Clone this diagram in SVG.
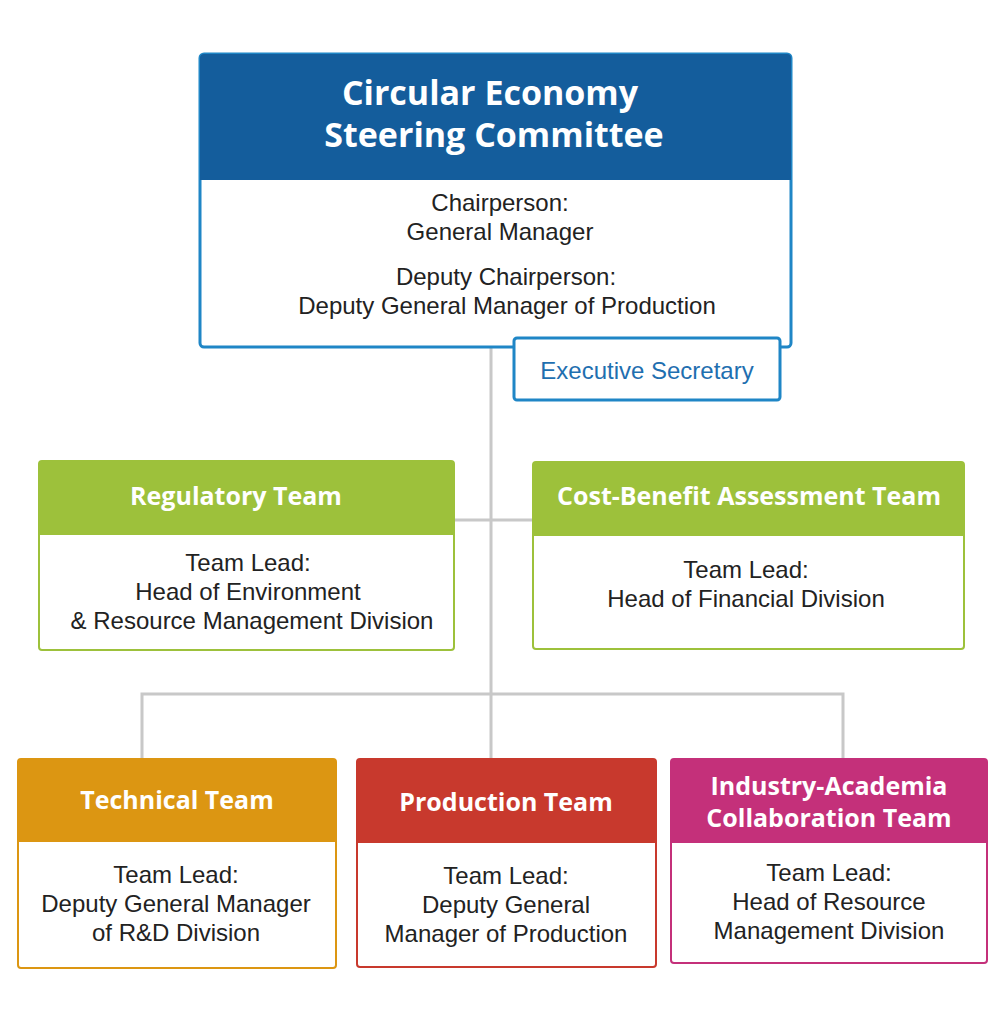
<svg xmlns="http://www.w3.org/2000/svg" width="1001" height="1024" viewBox="0 0 1001 1024">
<style>
.h{font-family:"Open Sans","Noto Sans",sans-serif;font-weight:bold;fill:#fff;text-anchor:middle}
.b{font-family:"Liberation Sans",Arial,sans-serif;font-size:24px;fill:#222;text-anchor:middle}
.ln{stroke:#c8c8c8;stroke-width:3;fill:none}
</style>
<rect width="1001" height="1024" fill="#fff"/>
<g id="connectors">
<path class="ln" d="M491 348V758M455 520H532M142 758V694H843V758"/>
</g>
<g id="committee">
<rect x="200" y="54" width="591" height="293" rx="4" fill="#fff" stroke="#1f86c6" stroke-width="3"/>
<path d="M200 58a4 4 0 0 1 4-4h583a4 4 0 0 1 4 4V180H200z" fill="#145d9c"/>
<text class="h" font-size="34" x="490" y="105">Circular Economy</text>
<text class="h" font-size="34" x="494" y="147">Steering Committee</text>
<text class="b" x="500" y="211">Chairperson:</text>
<text class="b" x="500" y="240">General Manager</text>
<text class="b" x="506" y="285">Deputy Chairperson:</text>
<text class="b" x="507" y="314">Deputy General Manager of Production</text>
</g>
<g id="secretary">
<rect x="514" y="338" width="266" height="62" rx="3" fill="#fff" stroke="#1f86c6" stroke-width="3"/>
<text class="b" x="647" y="379" fill="#1f6fb0" style="fill:#1f6fb0">Executive Secretary</text>
</g>
<g id="regulatory">
<rect x="39" y="461" width="415" height="189" rx="3" fill="#fff" stroke="#9dc13b" stroke-width="2"/>
<path d="M39 464a3 3 0 0 1 3-3h409a3 3 0 0 1 3 3V535H39z" fill="#9dc13b"/>
<text class="h" font-size="25" x="236" y="505">Regulatory Team</text>
<text class="b" x="248" y="571">Team Lead:</text>
<text class="b" x="248" y="600">Head of Environment</text>
<text class="b" x="252" y="629">&amp; Resource Management Division</text>
</g>
<g id="costbenefit">
<rect x="533" y="462" width="431" height="187" rx="3" fill="#fff" stroke="#9dc13b" stroke-width="2"/>
<path d="M533 465a3 3 0 0 1 3-3h425a3 3 0 0 1 3 3V536H533z" fill="#9dc13b"/>
<text class="h" font-size="25" x="749" y="505">Cost-Benefit Assessment Team</text>
<text class="b" x="746" y="578">Team Lead:</text>
<text class="b" x="746" y="607">Head of Financial Division</text>
</g>
<g id="technical">
<rect x="18" y="759" width="318" height="209" rx="3" fill="#fff" stroke="#dc9612" stroke-width="2"/>
<path d="M18 762a3 3 0 0 1 3-3h312a3 3 0 0 1 3 3V842H18z" fill="#dc9612"/>
<text class="h" font-size="25" x="177" y="809">Technical Team</text>
<text class="b" x="176" y="883">Team Lead:</text>
<text class="b" x="176" y="912">Deputy General Manager</text>
<text class="b" x="176" y="941">of R&amp;D Division</text>
</g>
<g id="production">
<rect x="357" y="759" width="299" height="208" rx="3" fill="#fff" stroke="#c8392d" stroke-width="2"/>
<path d="M357 762a3 3 0 0 1 3-3h293a3 3 0 0 1 3 3V843H357z" fill="#c8392d"/>
<text class="h" font-size="25" x="506" y="811">Production Team</text>
<text class="b" x="506" y="884">Team Lead:</text>
<text class="b" x="506" y="913">Deputy General</text>
<text class="b" x="506" y="942">Manager of Production</text>
</g>
<g id="industry">
<rect x="671" y="759" width="316" height="204" rx="3" fill="#fff" stroke="#c4307a" stroke-width="2"/>
<path d="M671 762a3 3 0 0 1 3-3h310a3 3 0 0 1 3 3V843H671z" fill="#c4307a"/>
<text class="h" font-size="25" x="829" y="795">Industry-Academia</text>
<text class="h" font-size="25" x="829" y="827">Collaboration Team</text>
<text class="b" x="829" y="881">Team Lead:</text>
<text class="b" x="829" y="910">Head of Resource</text>
<text class="b" x="829" y="939">Management Division</text>
</g>
</svg>
